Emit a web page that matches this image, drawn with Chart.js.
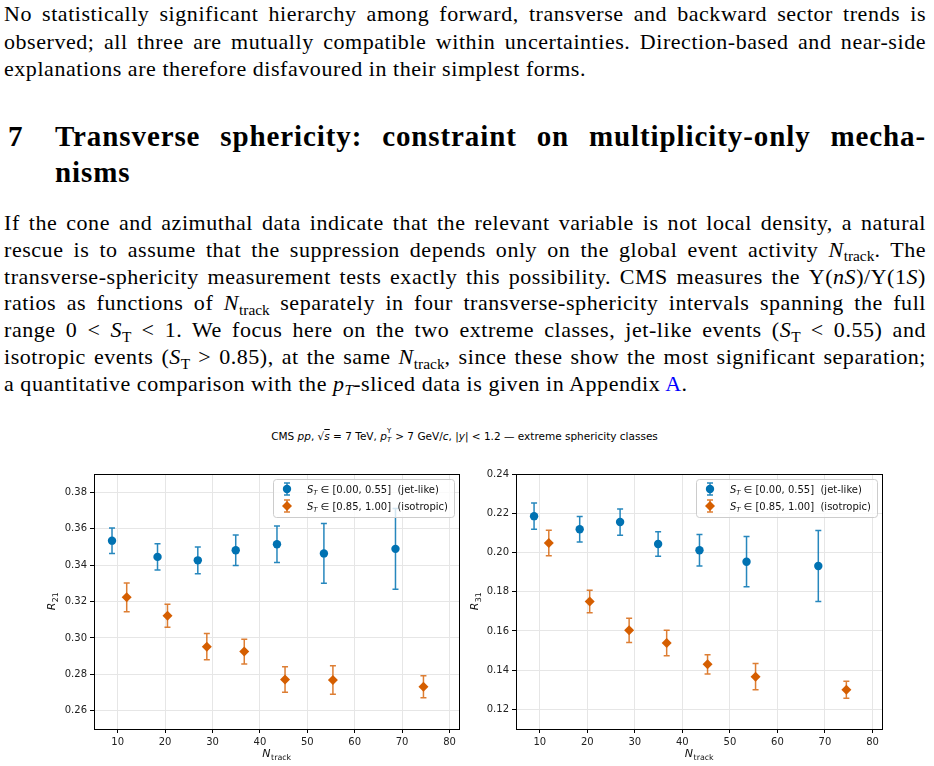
<!DOCTYPE html>
<html>
<head>
<meta charset="utf-8">
<script src="https://cdn.jsdelivr.net/npm/chart.js@4/dist/chart.umd.min.js"></script>
<style>
  body { margin: 0; background: #fff; width: 934px; height: 766px; position: relative; overflow: hidden; }
  .txt { position: absolute; left: 4px; width: 922px; font-family: 'Liberation Serif', serif; font-size: 22px; letter-spacing: 0.55px; line-height: 27.5px; color: #000; }
  .j { text-align: justify; text-align-last: justify; }
  .sub { font-size: 0.7em; position: relative; top: 0.3em; line-height: 0; letter-spacing: 0; }
  i { font-style: italic; }
  .head { position: absolute; left: 8px; width: 918px; font-family: 'Liberation Serif', serif; font-weight: bold; font-size: 29px; letter-spacing: 0.9px; line-height: 36px; }
  .head .num { position: absolute; left: 0; top: 0; }
  .head .t { margin-left: 47px; }
  .suptitle { position: absolute; top: 429px; left: 0; width: 929px; text-align: center; font-family: 'DejaVu Sans', sans-serif; font-size: 10.5px; line-height: 14px; color: #000; }
  canvas { position: absolute; }
</style>
</head>
<body>

<div class="txt" style="top:0px">
  <div class="j">No statistically significant hierarchy among forward, transverse and backward sector trends is</div>
  <div class="j">observed; all three are mutually compatible within uncertainties. Direction-based and near-side</div>
  <div>explanations are therefore disfavoured in their simplest forms.</div>
</div>

<div class="head" style="top:118px">
  <span class="num">7</span>
  <div class="t j">Transverse sphericity: constraint on multiplicity-only mecha-</div>
  <div class="t">nisms</div>
</div>

<div class="txt" style="top:210px; line-height:26.8px">
  <div class="j">If the cone and azimuthal data indicate that the relevant variable is not local density, a natural</div>
  <div class="j">rescue is to assume that the suppression depends only on the global event activity <i>N</i><span class="sub">track</span>. The</div>
  <div class="j">transverse-sphericity measurement tests exactly this possibility. CMS measures the &Upsilon;(<i>nS</i>)/&Upsilon;(1<i>S</i>)</div>
  <div class="j">ratios as functions of <i>N</i><span class="sub">track</span> separately in four transverse-sphericity intervals spanning the full</div>
  <div class="j">range 0 &lt; <i>S</i><span class="sub">T</span> &lt; 1. We focus here on the two extreme classes, jet-like events (<i>S</i><span class="sub">T</span> &lt; 0.55) and</div>
  <div class="j">isotropic events (<i>S</i><span class="sub">T</span> &gt; 0.85), at the same <i>N</i><span class="sub">track</span>, since these show the most significant separation;</div>
  <div>a quantitative comparison with the <i>p</i><span class="sub"><i>T</i></span>-sliced data is given in Appendix <span style="color:#0000ff">A</span>.</div>
</div>

<div class="suptitle">CMS <i>pp</i>, &radic;<span style="text-decoration:overline"><i>s</i></span> = 7 TeV, <i>p</i><span style="display:inline-block; position:relative; width:5px; height:10px;"><span style="position:absolute; left:0; top:-6px; font-size:7px;">&Upsilon;</span><span style="position:absolute; left:0; top:3px; font-size:7px;"><i>T</i></span></span> &gt; 7 GeV/<i>c</i>, |<i>y</i>| &lt; 1.2 &mdash; extreme sphericity classes</div>

<canvas id="chartR21" width="425" height="306" style="left:40px; top:460px; width:425px; height:306px"></canvas>
<canvas id="chartR31" width="464" height="306" style="left:470px; top:460px; width:464px; height:306px"></canvas>

<script>
// ---- data ----
const nTrackJet = [8.8, 18.4, 26.9, 34.9, 43.6, 53.5, 68.6];
const nTrackIso = [11.9, 20.5, 28.8, 36.7, 45.3, 55.4, 74.5];

const r21Jet    = [0.3534, 0.3445, 0.3426, 0.3481, 0.3514, 0.3464, 0.3489];
const r21JetErr = [0.0070, 0.0072, 0.0073, 0.0084, 0.0100, 0.0164, 0.0222];
const r21Iso    = [0.3223, 0.3122, 0.2952, 0.2925, 0.2772, 0.2769, 0.2732];
const r21IsoErr = [0.0079, 0.0063, 0.0072, 0.0068, 0.0070, 0.0078, 0.0060];

const r31Jet    = [0.2185, 0.2118, 0.2155, 0.2043, 0.2011, 0.1953, 0.1931];
const r31JetErr = [0.0067, 0.0065, 0.0067, 0.0062, 0.0080, 0.0128, 0.0181];
const r31Iso    = [0.2048, 0.1750, 0.1603, 0.1538, 0.1430, 0.1367, 0.1300];
const r31IsoErr = [0.0065, 0.0057, 0.0062, 0.0065, 0.0049, 0.0067, 0.0043];

const xTicks   = [10, 20, 30, 40, 50, 60, 70, 80];
const r21Ticks = [0.26, 0.28, 0.30, 0.32, 0.34, 0.36, 0.38];
const r31Ticks = [0.12, 0.14, 0.16, 0.18, 0.20, 0.22, 0.24];

const legendLabels = ['\u2208 [0.00, 0.55]  (jet-like)', '\u2208 [0.85, 1.00]  (isotropic)'];

const BLUE = '#0072B2';
const ORANGE = '#D55E00';
const FONT = "'DejaVu Sans', sans-serif";

// text like "R" + subscript "21", returns total width
function drawSubText(ctx, x, y, base, sub, size, align) {
    ctx.font = `italic ${size}px ${FONT}`;
    const wb = ctx.measureText(base).width;
    ctx.font = `${size * 0.72}px ${FONT}`;
    const ws = ctx.measureText(sub).width;
    let x0 = x;
    if (align === 'center') x0 = x - (wb + ws) / 2;
    ctx.textAlign = 'left';
    ctx.textBaseline = 'alphabetic';
    ctx.font = `italic ${size}px ${FONT}`;
    ctx.fillText(base, x0, y);
    ctx.font = `${size * 0.72}px ${FONT}`;
    ctx.fillText(sub, x0 + wb + 0.5, y + size * 0.28);
    return wb + ws;
}

// vertical error bars with caps, drawn under the markers
const errorBarPlugin = {
    id: 'errorBars',
    beforeDatasetsDraw(chart) {
        const ctx = chart.ctx;
        const xs = chart.scales.x, ys = chart.scales.y;
        const area = chart.chartArea;
        ctx.save();
        ctx.beginPath();
        ctx.rect(area.left, area.top, area.right - area.left, area.bottom - area.top);
        ctx.clip();
        chart.data.datasets.forEach(ds => {
            ctx.strokeStyle = ds.errColor;
            ctx.lineWidth = 1.5;
            ds.data.forEach((p, i) => {
                const px = xs.getPixelForValue(p.x);
                const top = ys.getPixelForValue(p.y + ds.errors[i]);
                const bot = ys.getPixelForValue(p.y - ds.errors[i]);
                ctx.beginPath();
                ctx.moveTo(px, top); ctx.lineTo(px, bot);
                ctx.moveTo(px - 3, top); ctx.lineTo(px + 3, top);
                ctx.moveTo(px - 3, bot); ctx.lineTo(px + 3, bot);
                ctx.stroke();
            });
        });
        ctx.restore();
    }
};

// full frame, axis titles with subscripts, matplotlib-like legend
const framePlugin = {
    id: 'frame',
    afterDraw(chart, args, opts) {
        const ctx = chart.ctx;
        const a = chart.chartArea;
        ctx.save();
        ctx.strokeStyle = '#000';
        ctx.lineWidth = 1;
        ctx.strokeRect(Math.round(a.left) + 0.5, Math.round(a.top) + 0.5, Math.round(a.right - a.left), Math.round(a.bottom - a.top));

        ctx.fillStyle = '#111';
        drawSubText(ctx, (a.left + a.right) / 2, 297, 'N', 'track', 11, 'center');
        ctx.save();
        ctx.translate(opts.yTitleX, (a.top + a.bottom) / 2);
        ctx.rotate(-Math.PI / 2);
        drawSubText(ctx, 0, 0, 'R', opts.ySub, 11, 'center');
        ctx.restore();

        // legend
        const bx = a.right - 186, by = a.top + 5, bw = 181, bh = 38;
        ctx.fillStyle = 'rgba(255,255,255,0.8)';
        ctx.strokeStyle = '#cccccc';
        ctx.beginPath();
        ctx.roundRect(bx + 0.5, by + 0.5, bw, bh, 3);
        ctx.fill();
        ctx.stroke();
        chart.data.datasets.forEach((ds, i) => {
            const cy = by + 10 + i * 17;
            const mx = bx + 14;
            ctx.strokeStyle = ds.errColor;
            ctx.lineWidth = 1.5;
            ctx.beginPath();
            ctx.moveTo(mx, cy - 6); ctx.lineTo(mx, cy + 6);
            ctx.moveTo(mx - 3, cy - 6); ctx.lineTo(mx + 3, cy - 6);
            ctx.moveTo(mx - 3, cy + 6); ctx.lineTo(mx + 3, cy + 6);
            ctx.stroke();
            ctx.fillStyle = ds.backgroundColor;
            ctx.beginPath();
            if (ds.pointStyle === 'circle') {
                ctx.arc(mx, cy, ds.pointRadius, 0, Math.PI * 2);
            } else {
                const r = ds.pointRadius;
                ctx.moveTo(mx, cy - r); ctx.lineTo(mx + r, cy); ctx.lineTo(mx, cy + r); ctx.lineTo(mx - r, cy);
                ctx.closePath();
            }
            ctx.fill();

            ctx.fillStyle = '#111';
            const tx = bx + 34, ty = cy + 4;
            ctx.font = `italic 10px ${FONT}`;
            ctx.textAlign = 'left';
            ctx.fillText('S', tx, ty);
            const ws = ctx.measureText('S').width;
            ctx.font = `italic 7px ${FONT}`;
            ctx.fillText('T', tx + ws, ty + 2);
            ctx.font = `10px ${FONT}`;
            ctx.fillText(' ' + legendLabels[i], tx + ws + 4, ty);
        });
        ctx.restore();
    }
};

function toPoints(xs, ys) {
    return xs.map((x, i) => ({ x: x, y: ys[i] }));
}

function makeChart(id, jet, jetErr, iso, isoErr, yMin, yMax, yTicks, ySub, yWidth, pad, yTitleX) {
    return new Chart(document.getElementById(id), {
        type: 'scatter',
        data: {
            datasets: [
                { label: 'jet-like', data: toPoints(nTrackJet, jet), errors: jetErr, errColor: 'rgba(0,114,178,0.85)',
                  backgroundColor: BLUE, borderWidth: 0, pointStyle: 'circle', pointRadius: 4.2 },
                { label: 'isotropic', data: toPoints(nTrackIso, iso), errors: isoErr, errColor: 'rgba(213,94,0,0.8)',
                  backgroundColor: ORANGE, borderWidth: 0, pointStyle: 'rectRot', pointRadius: 5 }
            ]
        },
        options: {
            responsive: false, animation: false,
            layout: { padding: pad },
            plugins: { legend: { display: false }, tooltip: { enabled: false }, frame: { ySub: ySub, yTitleX: yTitleX } },
            scales: {
                x: {
                    type: 'linear', min: 5, max: 82,
                    afterBuildTicks: s => { s.ticks = xTicks.map(v => ({ value: v })); },
                    afterFit: s => { s.height = 30; },
                    ticks: { font: { family: FONT, size: 10 }, color: '#222', padding: 3, maxRotation: 0 },
                    grid: { color: '#e6e6e6', tickColor: '#000', tickLength: 4 },
                    border: { color: '#000' }
                },
                y: {
                    min: yMin, max: yMax,
                    afterBuildTicks: s => { s.ticks = yTicks.map(v => ({ value: v })); },
                    afterFit: s => { s.width = yWidth; },
                    ticks: { font: { family: FONT, size: 10 }, color: '#222', padding: 3, callback: v => v.toFixed(2) },
                    grid: { color: '#e6e6e6', tickColor: '#000', tickLength: 4 },
                    border: { color: '#000' }
                }
            }
        },
        plugins: [errorBarPlugin, framePlugin]
    });
}

makeChart('chartR21', r21Jet, r21JetErr, r21Iso, r21IsoErr, 0.25, 0.39, r21Ticks, '21', 50,
    { left: 4, right: 6, top: 14, bottom: 7 }, 15);
makeChart('chartR31', r31Jet, r31JetErr, r31Iso, r31IsoErr, 0.11, 0.24, r31Ticks, '31', 40,
    { left: 6, right: 52, top: 14, bottom: 7 }, 8);
</script>
</body>
</html>
